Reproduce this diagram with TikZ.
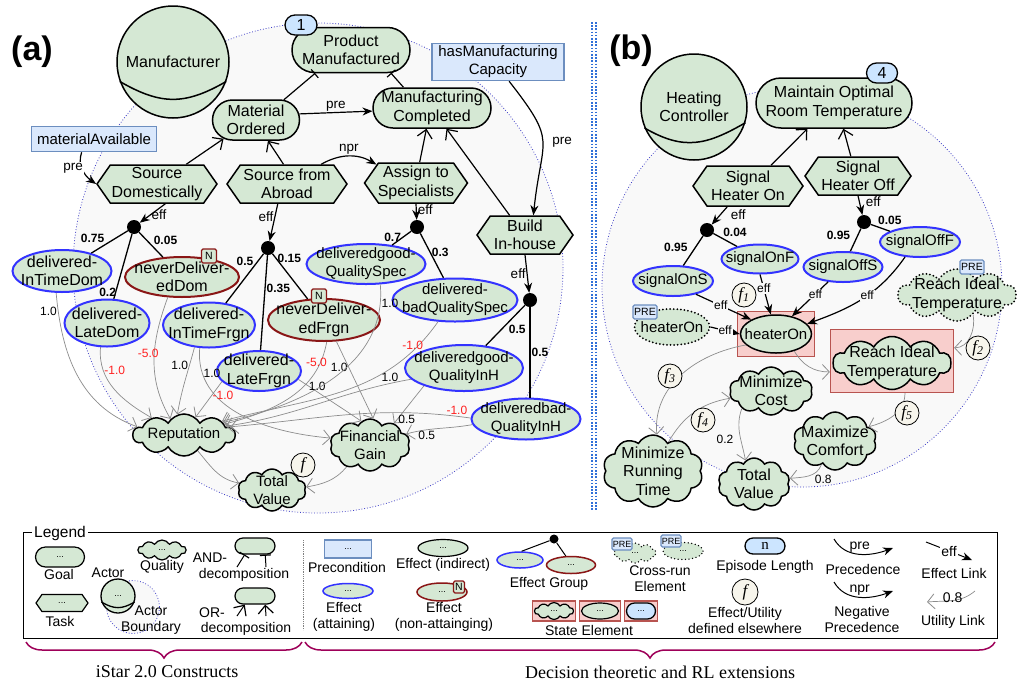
\documentclass[tikz,border=0pt]{standalone}
\usepackage{fontspec}
\setmainfont{Liberation Sans}
\newfontfamily\serifont{Liberation Serif}
\usepackage{tikz}
\usetikzlibrary{shapes,arrows.meta,decorations.pathreplacing,positioning}

\definecolor{GoalGreen}{HTML}{D5E8D4}
\definecolor{BlueEdge}{HTML}{3333FF}
\definecolor{RedEdge}{HTML}{8A1616}
\definecolor{PreFill}{HTML}{DAE8FC}
\definecolor{PreEdge}{HTML}{6C8EBF}
\definecolor{EpFill}{HTML}{CCE5FF}
\definecolor{StateFill}{HTML}{F8CECC}
\definecolor{StateEdge}{HTML}{B85450}
\definecolor{BoundFill}{HTML}{F9F9F9}
\definecolor{BoundEdge}{HTML}{4040C8}
\definecolor{FFill}{HTML}{F7F5EC}
\definecolor{ValRed}{HTML}{FF2020}
\definecolor{UtilGray}{HTML}{8C8C8C}
\definecolor{BraceCol}{HTML}{9E0059}
\definecolor{DivBlue}{HTML}{3070D8}

\newcommand{\bigtxt}{\fontsize{16}{18.5}\selectfont}
\newcommand{\medtxt}{\fontsize{15}{18}\selectfont}
\newcommand{\lbltxt}{\fontsize{13.5}{15}\selectfont}
\newcommand{\valtxt}{\fontsize{12}{14}\selectfont}
\newcommand{\legtxt}{\fontsize{14}{16}\selectfont}
\newcommand{\tagtxt}{\fontsize{10.5}{11}\selectfont}
\newcommand{\dottxt}{\fontsize{9}{10}\selectfont}
\newcommand{\ftxt}{\serifont\itshape\fontsize{17}{18}\selectfont}
\newcommand{\paneltxt}{\bfseries\fontsize{34}{36}\selectfont}
\newcommand{\bracetxt}{\serifont\fontsize{18}{20}\selectfont}

\begin{document}
\begin{tikzpicture}[x=1pt, y=-1pt]
		\tikzstyle{Shape}	= [draw, line width=1.5pt, fill=GoalGreen, inner sep=0pt]
		\tikzstyle{Goal}	= [Shape, rounded rectangle]
		\tikzstyle{Task}	= [Shape, signal, signal to=east and west, signal pointer angle=110]
		\tikzstyle{Quality}	= [Shape, cloud, cloud puffs=10, cloud puff arc=120, cloud ignores aspect]
		\tikzstyle{Actor}	= [Shape, circle]
		\tikzstyle{Effect}	= [Shape, ellipse]
		\tikzstyle{Attain}	= [Effect, draw=BlueEdge, line width=2pt]
		\tikzstyle{NonAtt}	= [Effect, draw=RedEdge, line width=2pt]
		\tikzstyle{CrossRun}	= [line cap=round, dash pattern=on 0pt off 3.6pt, line width=2pt]
		\tikzstyle{State}	= [rectangle, draw=StateEdge, line width=1.2pt, fill=StateFill, inner sep=0pt]
		\tikzstyle{Precond}	= [rectangle, draw=PreEdge, line width=1.5pt, fill=PreFill, inner sep=0pt]
		\tikzstyle{EpTag}	= [rounded rectangle, draw, line width=1.3pt, fill=EpFill, inner sep=0pt, font=\bigtxt]
		\tikzstyle{PreTag}	= [rectangle, rounded corners=1.5pt, draw=PreEdge, line width=1.2pt, fill=PreFill, minimum width=24pt, minimum height=14pt, inner sep=0pt, font=\tagtxt]
		\tikzstyle{NTag}	= [rectangle, rounded corners=1.5pt, draw=RedEdge, line width=1.3pt, fill=GoalGreen, minimum width=15pt, minimum height=14pt, inner sep=0pt, font=\tagtxt]
		\tikzstyle{Dot}		= [circle, fill=black, minimum size=14pt, inner sep=0pt]
		\tikzstyle{FCirc}	= [circle, draw, line width=0.8pt, fill=FFill, minimum size=24pt, inner sep=0pt, font=\ftxt]
		\tikzstyle{Boundary}	= [draw=BoundEdge, line width=0.8pt, dotted, fill=BoundFill]
		\tikzstyle{AND}		= [line width=1.2pt, -{Bar[width=11pt,line width=1.2pt]}]
		\tikzstyle{OR}		= [line width=1.2pt, -{Straight Barb[length=8pt,width=15pt,line width=1.2pt]}]
		\tikzstyle{Pre}		= [line width=1.2pt, -{Stealth[length=10pt,width=8pt]}]
		\tikzstyle{Grp}		= [line width=1.3pt]
		\tikzstyle{Util}	= [draw=UtilGray, line width=0.7pt, -{Straight Barb[length=7pt,width=15pt,line width=0.8pt]}]
		\tikzstyle{Lbl}		= [font=\lbltxt, inner sep=1pt]
		\tikzstyle{Prob}	= [font=\valtxt\bfseries, inner sep=1pt]
		\tikzstyle{Val}		= [font=\valtxt, inner sep=1pt]
		\tikzstyle{Neg}		= [Val, text=ValRed]
		\tikzstyle{LegTxt}	= [font=\legtxt, align=center, inner sep=0pt]
		\tikzstyle{Divider}	= [draw=DivBlue, line width=1.6pt, dash pattern=on 1.6pt off 1.6pt]
		\tikzstyle{Brace}	= [decorate, decoration={brace, mirror, amplitude=16pt}, draw=BraceCol, line width=1.5pt]
		\tikzset{NodeText/.style={align=center, font=\bigtxt, inner sep=0pt},
			Txt/.style={label={[NodeText]center:#1}},
			TxtS/.style={label={[NodeText, font=\medtxt]center:#1}}}

		\fill [white] (0,0) rectangle (1017,686);
		\useasboundingbox (0,0) rectangle (1017,686);

		\node (lbla) at (32,52) [font=\paneltxt] {(a)};
		\node (lblb) at (631,51) [font=\paneltxt] {(b)};
		\draw [Divider] (592,22) -- (592,510);
		\draw [Divider] (596,22) -- (596,510);

		\draw [Boundary] (318,268) circle (245pt);
		\draw [Boundary] (802,287) circle (200pt);

		\node (manuf) at (173,62) [Actor, minimum size=112pt, Txt={Manufacturer}] {};
		\draw [line width=1.5pt] (manuf.200) to [out=-30, in=210, looseness=1.15] (manuf.340);
		\node (pm) at (351,50) [Goal, minimum width=118pt, minimum height=45pt, Txt={Product\\Manufactured}] {};
		\node (ep1) at (301,25) [EpTag, minimum width=32pt, minimum height=20pt] {1};
		\node (mc) at (432,108) [Goal, minimum width=118pt, minimum height=40pt, Txt={Manufacturing\\Completed}] {};
		\node (mo) at (256,120) [Goal, minimum width=87pt, minimum height=40pt, Txt={Material\\Ordered}] {};
		\node (hmc) at (498,62) [Precond, minimum width=132pt, minimum height=37pt, TxtS={hasManufacturing\\Capacity}] {};
		\node (ma) at (94,139) [Precond, minimum width=125pt, minimum height=25pt, TxtS={materialAvailable}] {};
		\node (sd) at (157,184) [Task, minimum width=120pt, minimum height=38pt, Txt={Source\\Domestically}] {};
		\node (sa) at (287,184) [Task, minimum width=120pt, minimum height=38pt, Txt={Source from\\Abroad}] {};
		\node (as) at (416,183) [Task, minimum width=103pt, minimum height=40pt, Txt={Assign to\\Specialists}] {};
		\node (bi) at (525,235) [Task, minimum width=96pt, minimum height=38pt, Txt={Build\\In-house}] {};
		\node (gsd) at (134,227) [Dot] {};
		\node (gsa) at (268,248) [Dot] {};
		\node (gas) at (417,227) [Dot] {};
		\node (gbi) at (530,300) [Dot] {};
		\node (ditdom) at (62,271) [Attain, minimum width=99pt, minimum height=42pt, Txt={delivered-\\InTimeDom}] {};
		\node (dldom) at (107,323) [Attain, minimum width=85pt, minimum height=47pt, Txt={delivered-\\LateDom}] {};
		\node (nddom) at (182,277) [NonAtt, minimum width=114pt, minimum height=40pt, Txt={neverDeliver-\\edDom}] {};
		\node (nddomn) at (209,256) [NTag] {N};
		\node (ditfrgn) at (209,325) [Attain, minimum width=92pt, minimum height=45pt, Txt={delivered-\\InTimeFrgn}] {};
		\node (ndfrgn) at (324,320) [NonAtt, minimum width=112pt, minimum height=42pt, Txt={neverDeliver-\\edFrgn}] {};
		\node (ndfrgnn) at (319,296) [NTag] {N};
		\node (dlfrgn) at (259,371) [Attain, minimum width=84pt, minimum height=40pt, Txt={delivered-\\LateFrgn}] {};
		\node (dgqs) at (366,264) [Attain, minimum width=119pt, minimum height=40pt, TxtS={deliveredgood-\\QualitySpec}] {};
		\node (dbqs) at (455,300) [Attain, minimum width=125pt, minimum height=43pt, TxtS={delivered-\\badQualitySpec}] {};
		\node (dgqi) at (464,368) [Attain, minimum width=118pt, minimum height=46pt, TxtS={deliveredgood-\\QualityInH}] {};
		\node (dbqi) at (526,419) [Attain, minimum width=109pt, minimum height=41pt, TxtS={deliveredbad-\\QualityInH}] {};
		\node (rep) at (184,435) [Quality, minimum width=102pt, minimum height=42pt, TxtS={Reputation}] {};
		\node (fg) at (370,445) [Quality, minimum width=80pt, minimum height=52pt, TxtS={Financial\\Gain}] {};
		\node (tva) at (272,490) [Quality, minimum width=68pt, minimum height=42pt, TxtS={Total\\Value}] {};

		\draw [AND] (mo.36) to (pm.213);
		\draw [AND] (mc.144) to (pm.330);
		\draw [Pre] (mo.8) to node [Lbl, above] {pre} (mc.183);
		\draw [OR] (sd.34) to (mo.210);
		\draw [OR] (sa.100) to (mo.300);
		\draw [OR] (as.80) to (mc.255);
		\draw [OR] (bi.128) to (mc.305);
		\draw [Pre] (sa.30) to [bend left=30] node [Lbl, above] {npr} (as.155);
		\draw [Pre] (hmc.-60) to [out=-52, in=84, looseness=1.5] node [Lbl, right=8pt] {pre} (bi.67);
		\draw [Pre] (ma.227) to [out=250, in=145] node [Lbl, pos=0.45, xshift=-9pt, fill=white] {pre} (sd.west);
		\draw [Pre] (sd.293) to node [Lbl, pos=0.6, right] {eff} (gsd);
		\draw [Pre] (sa.245) to node [Lbl, pos=0.35, left] {eff} (gsa);
		\draw [Pre] (as.south) to node [Lbl, pos=0.4, right] {eff} (gas);
		\draw [Pre] (bi.south) to node [Lbl, pos=0.5, left] {eff} (gbi);

		\draw [Grp] (gsd) to node [Prob, pos=0.6, above left] {0.75} (ditdom);
		\draw [Grp] (gsd) to node [Prob, pos=0.9, left, xshift=2pt] {0.2} (dldom);
		\draw [Grp] (gsd) to node [Prob, pos=0.55, above right] {0.05} (nddom);
		\draw [Grp] (gsa) to node [Prob, pos=0.15, left=3pt] {0.5} (ditfrgn);
		\draw [Grp] (gsa) to node [Prob, pos=0.35, right] {0.35} (dlfrgn);
		\draw [Grp] (gsa) to node [Prob, pos=0.1, right] {0.15} (ndfrgn);
		\draw [Grp] (gas) to node [Prob, pos=0.45, left] {0.7} (dgqs);
		\draw [Grp] (gas) to node [Prob, pos=0.43, right] {0.3} (dbqs);
		\draw [Grp] (gbi) to node [Prob, pos=0.45, below right] {0.5} (dgqi);
		\draw [Grp] (gbi) to node [Prob, pos=0.5, right] {0.5} (dbqi.north -| gbi);

		\draw [Util] (ditdom.255) to [out=-85, in=160] node [Val, pos=0.1, left] {1.0} (rep.170);
		\draw [Util] (dldom.255) to [out=-95, in=150] node [Neg, pos=0.25, right] {-1.0} (rep.152);
		\draw [Util] (nddom.235) to [out=250, in=120] node [Neg, pos=0.45, xshift=-6pt] {-5.0} (rep.130);
		\draw [Util] (ditfrgn.237) to [out=255, in=80] node [Val, pos=0.25, left] {1.0} (rep.108);
		\draw [Util] (ditfrgn.248) to [out=265, in=175] node [Val, pos=0.15, right] {1.0} (fg.170);
		\draw [Util] (dlfrgn.196) to node [Neg, pos=0.4, right] {-1.0} (rep.57);
		\draw [Util] (dlfrgn.348) to node [Val, pos=0.3, above] {1.0} (fg.110);
		\draw [Util] (ndfrgn.277) to [out=260, in=15] node [Neg, pos=0.15, xshift=-4pt] {-5.0} (rep.15);
		\draw [Util] (ndfrgn.300) to node [Val, pos=0.34, left] {1.0} (fg.83);
		\draw [Util] (dgqs.305) to [out=275, in=12] node [Val, pos=0.08, right] {1.0} (rep.18);
		\draw [Util] (dbqs.232) to [out=235, in=15] node [Neg, pos=0.15, above] {-1.0} (rep.20);
		\draw [Util] (dgqi.192) to [out=190, in=8] node [Val, pos=0.1, above] {1.0} (rep.12);
		\draw [Util] (dgqi.204) to node [Val, pos=0.9, right] {0.5} (fg.42);
		\draw [Util] (dbqi.179) to [out=172, in=5] node [Neg, pos=0.05, above] {-1.0} (rep.10);
		\draw [Util] (dbqi.186) to [out=190, in=15] node [Val, pos=0.7, below] {0.5} (fg.17);
		\draw [Util] (rep.311) to [out=-50, in=170] (tva.168);
		\draw [Util] (fg.223) to [out=230, in=10] (tva.5);
		\node (fa) at (303,465) [FCirc] {f};

		\node (hc) at (694,107) [Actor, minimum size=106pt, Txt={Heating\\Controller}] {};
		\draw [line width=1.5pt] (hc.203) to [out=-30, in=210, looseness=1.15] (hc.343);
		\node (mort) at (834,103) [Goal, minimum width=156pt, minimum height=50pt, Txt={Maintain Optimal\\Room Temperature}] {};
		\node (ep4) at (882,73) [EpTag, minimum width=31pt, minimum height=20pt] {4};
		\node (sho) at (748,186) [Task, minimum width=110pt, minimum height=40pt, Txt={Signal\\Heater On}] {};
		\node (shf) at (858,176) [Task, minimum width=106pt, minimum height=38pt, Txt={Signal\\Heater Off}] {};
		\node (gsho) at (707,230) [Dot] {};
		\node (gshf) at (864,222) [Dot] {};
		\node (sons) at (673,281) [Attain, minimum width=80pt, minimum height=30pt, TxtS={signalOnS}] {};
		\node (sonf) at (760,259) [Attain, minimum width=77pt, minimum height=29pt, TxtS={signalOnF}] {};
		\node (soffs) at (843,267) [Attain, minimum width=79pt, minimum height=30pt, TxtS={signalOffS}] {};
		\node (sofff) at (920,242) [Attain, minimum width=80pt, minimum height=30pt, TxtS={signalOffF}] {};
		\node (xhon) at (672,327) [Effect, CrossRun, minimum width=75pt, minimum height=36pt, TxtS={heaterOn}] {};
		\node (prex) at (645,312) [PreTag] {PRE};
		\node (xrit) at (957,295) [Quality, CrossRun, minimum width=118pt, minimum height=52pt, Txt={Reach Ideal\\Temperature}] {};
		\node (prer) at (972,267) [PreTag] {PRE};
		\node (honbox) at (776,334) [State, minimum width=77pt, minimum height=45pt] {};
		\node (hon) at (776,334) [Effect, minimum width=71pt, minimum height=38pt, TxtS={heaterOn}] {};
		\node (ritbox) at (892,361) [State, minimum width=123pt, minimum height=63pt] {};
		\node (rit) at (892,363) [Quality, minimum width=118pt, minimum height=53pt, Txt={Reach Ideal\\Temperature}] {};
		\node (mcost) at (771,391) [Quality, minimum width=83pt, minimum height=48pt, Txt={Minimize\\Cost}] {};
		\node (mcomf) at (835,441) [Quality, minimum width=83pt, minimum height=58pt, Txt={Maximize\\Comfort}] {};
		\node (mrt) at (653,471) [Quality, minimum width=100pt, minimum height=72pt, Txt={Minimize\\Running\\Time}] {};
		\node (tvb) at (754,484) [Quality, minimum width=72pt, minimum height=52pt, Txt={Total\\Value}] {};

		\draw [OR] (sho.42) to (mort.224);
		\draw [OR] (shf.110) to (mort.290);
		\draw [Pre] (sho.225) to node [Lbl, pos=0.45, right=9pt] {eff} (gsho);
		\draw [Pre] (shf.south) to node [Lbl, pos=0.3, right=5pt] {eff} (gshf);
		\draw [Grp] (gsho) to node [Prob, pos=0.4, left=6pt] {0.95} (sons);
		\draw [Grp] (gsho) to node [Prob, pos=0.35, above right] {0.04} (sonf);
		\draw [Grp] (gshf) to node [Prob, pos=0.3, left=6pt] {0.95} (soffs);
		\draw [Grp] (gshf) to node [Prob, pos=0.3, above right] {0.05} (sofff);
		\draw [Pre] (sons.330) to node [Lbl, font=\valtxt, pos=0.45, fill=BoundFill] {eff} (hon.150);
		\draw [Pre] (sonf.south) to node [Lbl, font=\valtxt, pos=0.35, fill=BoundFill] {eff} (hon.105);
		\draw [Pre] (soffs.225) to node [Lbl, font=\valtxt, pos=0.35, fill=BoundFill] {eff} (hon.48);
		\draw [Pre] (sofff.225) to [out=235, in=20] node [Lbl, font=\valtxt, pos=0.45, fill=BoundFill] {eff} (hon.18);
		\draw [Pre] (xhon.east) to node [Lbl, font=\valtxt, fill=BoundFill] {eff} (hon.west);
		\draw [Util] (hon.317) to [out=-60, in=180] (ritbox.190);
		\draw [Util] (xrit.309) to [out=-80, in=0] (ritbox.12);
		\draw [Util] (hon.200) to [out=190, in=95] (mrt.84);
		\draw [Util] (mrt.62) to [out=60, in=190] (mcost.190);
		\draw [Util] (mcost.211) to [out=250, in=100] node [Val, pos=0.6, left=6pt] {0.2} (tvb.110);
		\draw [Util] (mcomf.240) to [out=250, in=5] node [Val, pos=0.35, below right] {0.8} (tvb.9);
		\draw [Util] (ritbox.292) to [out=-90, in=15] (mcomf.23);
		\node (f1) at (744,295) [FCirc] {f\textsubscript{1}};
		\node (f2) at (978,348) [FCirc] {f\textsubscript{2}};
		\node (f3) at (670,376) [FCirc] {f\textsubscript{3}};
		\node (f4) at (703,420) [FCirc] {f\textsubscript{4}};
		\node (f5) at (907,413) [FCirc] {f\textsubscript{5}};

		\node (legbox) at (510,585) [draw, line width=1pt, minimum width=974pt, minimum height=106pt, inner sep=0pt] {};
		\node (legtitle) at (60,533) [fill=white, inner sep=2pt, font=\fontsize{15.5}{17}\selectfont] {Legend};
		\draw [densely dotted, gray, line width=0.8pt] (303,540) -- (303,630);
		\node (lgoal) at (60,557) [Goal, minimum width=49pt, minimum height=20pt, line width=1.2pt, font=\dottxt] {...};
		\node (lgoalt) at (59,574) [LegTxt] {Goal};
		\node (ltask) at (62,603) [Task, minimum width=52pt, minimum height=17pt, line width=1.2pt, font=\dottxt] {...};
		\node (ltaskt) at (60,621) [LegTxt] {Task};
		\node (lactt) at (108,573) [LegTxt] {Actor};
		\node (lbound) at (133,607) [Boundary, circle, minimum size=53pt] {};
		\node (lactor) at (118,596) [Actor, minimum size=34pt, line width=1.3pt, font=\dottxt] {...};
		\draw [line width=1.3pt] (lactor.200) to [out=-30, in=210, looseness=1.15] (lactor.340);
		\node (lboundt) at (151,620) [LegTxt] {Actor\\Boundary};
		\node (lqual) at (162,550) [Quality, minimum width=48pt, minimum height=20pt, line width=1.2pt, font=\dottxt] {...};
		\node (lqualt) at (162,567) [LegTxt] {Quality};
		\node (land) at (255,546) [Goal, minimum width=40pt, minimum height=16pt, line width=1.2pt] {};
		\node (landt1) at (210,558) [LegTxt] {AND-};
		\node (landt2) at (244,575) [LegTxt] {decomposition};
		\coordinate (landa) at (237,567);
		\coordinate (landb) at (266,567);
		\draw [AND, line width=1pt] (landa) to (land.220);
		\draw [AND, line width=1pt] (landb) to (land.320);
		\node (lor) at (255,596) [Goal, minimum width=40pt, minimum height=16pt, line width=1.2pt] {};
		\node (lort1) at (212,613) [LegTxt] {OR-};
		\node (lort2) at (246,629) [LegTxt] {decomposition};
		\coordinate (lora) at (237,616);
		\coordinate (lorb) at (266,616);
		\draw [OR, line width=1pt] (lora) to (lor.220);
		\draw [OR, line width=1pt] (lorb) to (lor.320);

		\node (lpre) at (348,549) [Precond, minimum width=47pt, minimum height=18pt, line width=1.2pt, font=\dottxt] {...};
		\node (lpret) at (347,567) [LegTxt] {Precondition};
		\node (lind) at (443,548) [Effect, minimum width=50pt, minimum height=17pt, line width=1.2pt, font=\dottxt] {...};
		\node (lindt) at (443,565) [LegTxt] {Effect (indirect)};
		\node (latt) at (348,591) [Attain, minimum width=50pt, minimum height=15pt, line width=1.5pt, font=\dottxt] {...};
		\node (lattt) at (344,617) [LegTxt] {Effect\\(attaining)};
		\node (lnon) at (442,592) [NonAtt, minimum width=50pt, minimum height=18pt, line width=1.5pt, font=\dottxt] {...};
		\node (lnonn) at (459,587) [NTag, minimum width=11pt, minimum height=12pt] {N};
		\node (lnont) at (444,617) [LegTxt] {Effect\\(non-attainging)};
		\node (lgdot) at (554,539) [Dot, minimum size=9pt] {};
		\node (lgatt) at (520,560) [Attain, minimum width=46pt, minimum height=16pt, line width=1.5pt, font=\dottxt] {...};
		\node (lgnon) at (571,565) [NonAtt, minimum width=49pt, minimum height=17pt, line width=1.5pt, font=\dottxt] {...};
		\draw [Grp, line width=1pt] (lgdot) to (lgatt.80);
		\draw [Grp, line width=1pt] (lgdot) to (lgnon.120);
		\node (lgrpt) at (549,584) [LegTxt] {Effect Group};
		\node (lxq) at (635,553) [Quality, CrossRun, minimum width=42pt, minimum height=20pt, line width=1.5pt, font=\dottxt] {...};
		\node (lxqp) at (622,544) [PreTag, minimum width=20pt, minimum height=12pt, font=\fontsize{9}{10}\selectfont] {PRE};
		\node (lxe) at (683,551) [Effect, CrossRun, minimum width=40pt, minimum height=17pt, line width=1.5pt, font=\dottxt] {...};
		\node (lxep) at (671,541) [PreTag, minimum width=20pt, minimum height=12pt, font=\fontsize{9}{10}\selectfont] {PRE};
		\node (lxt) at (660,579) [LegTxt] {Cross-run\\Element};
		\node (lsb1) at (554,611) [State, minimum width=43pt, minimum height=20pt] {};
		\node (lsq) at (554,611) [Quality, minimum width=39pt, minimum height=17pt, line width=1.2pt, font=\dottxt] {...};
		\node (lsb2) at (600,611) [State, minimum width=41pt, minimum height=20pt] {};
		\node (lse) at (600,611) [Effect, minimum width=37pt, minimum height=16pt, line width=1.2pt, font=\dottxt] {...};
		\node (lsb3) at (641,611) [State, minimum width=33pt, minimum height=20pt] {};
		\node (lsg) at (641,611) [EpTag, minimum width=29pt, minimum height=16pt, font=\dottxt] {...};
		\node (lst) at (589,630) [LegTxt] {State Element};
		\node (lep) at (765,546) [EpTag, minimum width=40pt, minimum height=16pt, font=\serifont\fontsize{15}{16}\selectfont] {n};
		\node (lept) at (765,567) [LegTxt] {Episode Length};
		\node (lf) at (745,592) [FCirc, minimum size=26pt] {f};
		\node (lft) at (745,620) [LegTxt] {Effect/Utility\\defined elsewhere};
		\coordinate (lprea) at (834,539);
		\coordinate (lpreb) at (893,548);
		\draw [Pre, line width=1pt] (lprea) to [out=-60, in=200] node [LegTxt, above=1pt] {pre} (lpreb);
		\node (lpret) at (863,569) [LegTxt] {Precedence};
		\coordinate (lnpra) at (834,582);
		\coordinate (lnprb) at (893,591);
		\draw [Pre, line width=1pt] (lnpra) to [out=-60, in=200] node [LegTxt, above=1pt] {npr} (lnprb);
		\node (lnprt) at (862,619) [LegTxt] {Negative\\Precedence};
		\coordinate (leffa) at (926,542);
		\coordinate (leffb) at (972,560);
		\draw [Pre, line width=1pt] (leffa) to node [LegTxt, fill=white, inner sep=1pt] {eff} (leffb);
		\node (lefft) at (954,573) [LegTxt] {Effect Link};
		\coordinate (lua) at (975,591);
		\coordinate (lub) at (927,602);
		\draw [Util] (lua) to [out=220, in=5] node [LegTxt, above=-2pt] {0.8} (lub);
		\node (lut) at (953,622) [LegTxt] {Utility Link};

		\coordinate (bra) at (26,642);
		\coordinate (brb) at (302,642);
		\coordinate (brc) at (305,642);
		\coordinate (brd) at (995,642);
		\draw [Brace] (bra) -- (brb);
		\draw [Brace] (brc) -- (brd);
		\node (brl1) at (167,672) [font=\bracetxt] {iStar 2.0 Constructs};
		\node (brl2) at (660,672) [font=\bracetxt] {Decision theoretic and RL extensions};
	\end{tikzpicture}
\end{document}
